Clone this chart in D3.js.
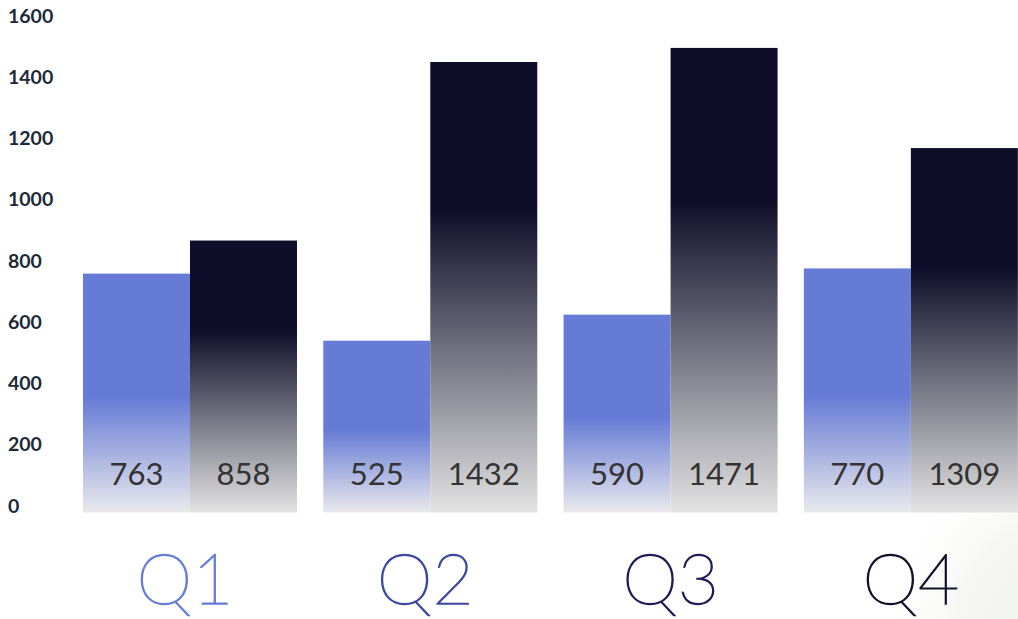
<!DOCTYPE html>
<html>
<head>
<meta charset="UTF-8">
<style>
  * { margin: 0; padding: 0; box-sizing: border-box; }
  html, body { width: 1018px; height: 619px; background: #fff; overflow: hidden; font-family: Lato, "Open Sans", sans-serif; }
  svg { display: block; }
</style>
</head>
<body>
<div id="chart"></div>
<script src="https://d3js.org/d3.v7.min.js"></script>
<script>
// --- data ---
var quarters = ["Q1", "Q2", "Q3", "Q4"];
var seriesNames = ["first", "second"];
// bar heights as drawn
var firstValues = [780, 561, 646, 797];
var secondValues = [888, 1471, 1517, 1190];
// numbers printed inside the bars
var firstLabels = [763, 525, 590, 770];
var secondLabels = [858, 1432, 1471, 1309];
var yTicks = [0, 200, 400, 600, 800, 1000, 1200, 1400, 1600];
var quarterColors = ["#677cd7", "#3b47a0", "#1e1b5b", "#11112b"];

var W = 1018, H = 619;

var svg = d3.select("#chart").append("svg")
  .attr("width", W).attr("height", H);

var defs = svg.append("defs");

// faint corner shade bottom right
var corner = defs.append("radialGradient").attr("id", "corner")
  .attr("cx", 1080).attr("cy", 640).attr("r", 210)
  .attr("gradientUnits", "userSpaceOnUse");
corner.append("stop").attr("offset", 0).attr("stop-color", "#f0f2ec");
corner.append("stop").attr("offset", 0.6).attr("stop-color", "#f6f7f3");
corner.append("stop").attr("offset", 1).attr("stop-color", "#ffffff").attr("stop-opacity", 0);
svg.append("rect").attr("x", 0).attr("y", 0).attr("width", W).attr("height", H)
  .attr("fill", "url(#corner)");

function grad(id, color, solidTo, bottom) {
  var g = defs.append("linearGradient").attr("id", id)
    .attr("x1", 0).attr("y1", 0).attr("x2", 0).attr("y2", 1);
  g.append("stop").attr("offset", 0).attr("stop-color", color);
  g.append("stop").attr("offset", solidTo).attr("stop-color", color);
  g.append("stop").attr("offset", 1).attr("stop-color", bottom);
}
grad("g-first", "#667bd6", 0.52, "#e9e9ec");
grad("g-second", "#0e0e2a", 0.33, "#e3e3e3");

var y = d3.scaleLinear().domain([0, 1600]).range([512.5, 22.5]);

var x = d3.scaleBand().domain(quarters)
  .range([69.85, 1031]).paddingInner(0.1094).paddingOuter(0.0547);

var xs = d3.scaleBand().domain(seriesNames).range([0, x.bandwidth()]).padding(0);

// y axis labels
svg.append("g").selectAll("text")
  .data(yTicks).enter().append("text")
  .attr("x", 8)
  .attr("y", function(d) { return y(d); })
  .attr("font-size", "19.5px")
  .attr("font-weight", "bold")
  .attr("fill", "#1b2a38")
  .text(function(d) { return d; });

var rows = quarters.map(function(q, i) {
  return {
    q: q, i: i,
    bars: [
      { s: "first", v: firstValues[i], label: firstLabels[i] },
      { s: "second", v: secondValues[i], label: secondLabels[i] }
    ]
  };
});

var groups = svg.append("g").selectAll("g")
  .data(rows).enter().append("g")
  .attr("transform", function(d) { return "translate(" + x(d.q) + ",0)"; });

groups.selectAll("rect")
  .data(function(d) { return d.bars; })
  .enter().append("rect")
  .attr("x", function(d) { return xs(d.s); })
  .attr("y", function(d) { return y(d.v); })
  .attr("width", xs.bandwidth())
  .attr("height", function(d) { return y(0) - y(d.v); })
  .attr("fill", function(d) { return "url(#g-" + d.s + ")"; });

groups.selectAll("text.val")
  .data(function(d) { return d.bars; })
  .enter().append("text")
  .attr("class", "val")
  .attr("x", function(d) { return xs(d.s) + xs.bandwidth() / 2; })
  .attr("y", 485)
  .attr("text-anchor", "middle")
  .attr("font-size", "31px")
  .attr("fill", "#333")
  .text(function(d) { return d.label; });

// quarter labels (hairline weight, thickened a little with a stroke)
groups.append("text")
  .attr("x", function(d) { return x.bandwidth() / 2 - (d.i < 2 ? 5 : 0); })
  .attr("y", 604)
  .attr("text-anchor", "middle")
  .attr("font-size", "71px")
  .attr("font-weight", 100)
  .attr("fill", function(d) { return quarterColors[d.i]; })
  .attr("stroke", function(d) { return quarterColors[d.i]; })
  .attr("stroke-width", 1.4)
  .text(function(d) { return d.q; });
</script>
</body>
</html>
